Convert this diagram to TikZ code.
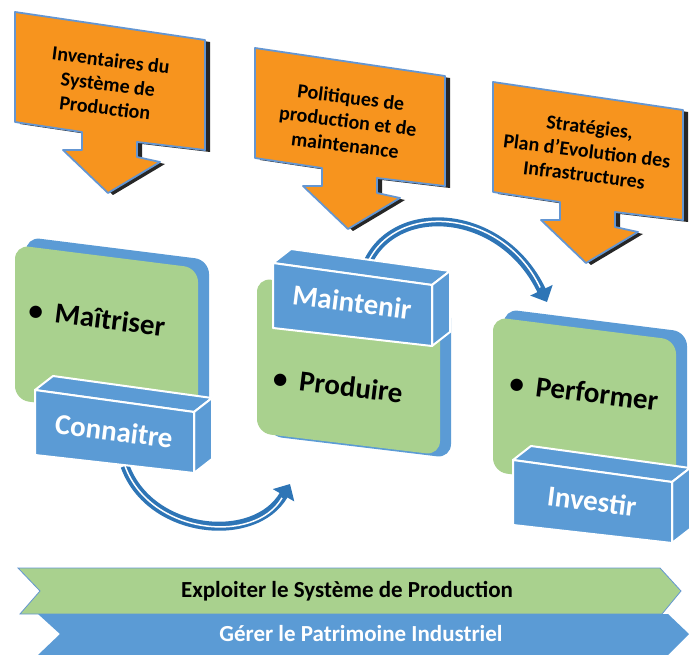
\documentclass[tikz,border=0pt]{standalone}
\usepackage{fontspec}
\setmainfont{Carlito}
\usetikzlibrary{arrows.meta}
\definecolor{calloutorange}{RGB}{247,148,30}
\definecolor{edgeblue}{RGB}{100,150,210}
\definecolor{tabblue}{RGB}{91,155,213}
\definecolor{boxgreen}{RGB}{169,209,142}
\definecolor{arrowblue}{RGB}{46,117,182}

\begin{document}
\begin{tikzpicture}[x=1pt, y=-1pt,
    callouttext/.style={align=center, font=\fontsize{20}{24}\selectfont\bfseries, rotate=-7},
    boxtext/.style={font=\fontsize{29}{33}\selectfont\bfseries, rotate=-7},
    tabtext/.style={boxtext, text=white},
    bandtext/.style={font=\fontsize{23}{27}\selectfont\bfseries},
    calloutbox/.style={fill=calloutorange, draw=edgeblue, line width=1.8pt, line join=round},
    boxface/.style={fill=boxgreen, rounded corners=14pt},
    boxback/.style={fill=tabblue, rounded corners=14pt},
    tabface/.style={fill=tabblue, draw=white, line width=2pt, line join=round},
    curvedarrow/.style={arrowblue, line width=9pt, -{Triangle[width=24pt,length=13pt]}},
    arrowstripe/.style={white, line width=1.5pt, shorten >=16pt},
    callout/.pic={
      \fill[black!85, shift={(5,2)}] (0,0) -- (190,28) -- (190,138) -- (122,130) -- (122,145)
        -- (145,150) -- (93,181) -- (48,138) -- (67,138) -- (67,120) -- (0,110) -- cycle;
      \draw[calloutbox] (0,0) -- (190,28) -- (190,138) -- (122,130) -- (122,145)
        -- (145,150) -- (93,181) -- (48,138) -- (67,138) -- (67,120) -- (0,110) -- cycle;
    },
    greenbox/.pic={
      \fill[boxback, shift={#1}] (0,0) -- (183,23) -- (183,177) -- (0,155) -- cycle;
      \fill[boxface] (0,0) -- (183,23) -- (183,177) -- (0,155) -- cycle;
    },
    tab/.pic={
      \filldraw[tabface] (0,0) -- (18,-14) -- (177,8) -- (159,22) -- cycle;
      \filldraw[tabface] (159,22) -- (177,8) -- (177,69) -- (159,83) -- cycle;
      \filldraw[tabface] (0,0) -- (159,22) -- (159,83) -- (0,65) -- cycle;
    }
]
\useasboundingbox (0,0) rectangle (689,655);
% Orange inputs
\pic (c1) at (15,12) {callout};
\pic (c2) at (255,48) {callout};
\pic (c3) at (493,82) {callout};
\node[callouttext] (in1) at (108,84) {Inventaires du\\Système de\\Production};
\node[callouttext] (in2) at (348,121) {Politiques de\\production et de\\maintenance};
\node[callouttext] (in3) at (587,151) {Stratégies,\\Plan d’Evolution des\\Infrastructures};
% Green boxes
\pic (b1) at (15,245) {greenbox={(11,-8)}};
\pic (b2) at (257,278) {greenbox={(11,3)}};
\pic (b3) at (493,317) {greenbox={(11,-8)}};
\node[boxtext] (maitriser) at (97,318) {\textbullet\hspace{12pt}Maîtriser};
\node[boxtext] (produire) at (338,385) {\textbullet\hspace{12pt}Produire};
\node[boxtext] (performer) at (584,392) {\textbullet\hspace{12pt}Performer};
% Curved arrows
\coordinate (a1start) at (125,466);
\coordinate (a1end) at (290,484);
\coordinate (a2start) at (363,276);
\coordinate (a2end) at (547,302);
\draw[curvedarrow] (a1start) .. controls (150,535) and (255,545) .. (a1end);
\draw[arrowstripe] (a1start) .. controls (150,535) and (255,545) .. (a1end);
\draw[curvedarrow] (a2start) .. controls (382,200) and (500,203) .. (a2end);
\draw[arrowstripe] (a2start) .. controls (382,200) and (500,203) .. (a2end);
% Blue tabs
\pic (t1) at (35,390) {tab};
\pic (t2) at (273,263) {tab};
\pic (t3) at (513,460) {tab};
\node[tabtext] (connaitre) at (114,431) {Connaitre};
\node[tabtext] (maintenir) at (352,302) {Maintenir};
\node[tabtext] (investir) at (592,501) {Investir};
% Bottom bands
\filldraw[fill=boxgreen, draw=edgeblue, line width=0.8pt] (18,568) -- (660,568) -- (681,591)
  -- (662,614) -- (20,614) -- (40,591) -- cycle;
\fill[tabblue] (38,614) -- (668,614) -- (689,634) -- (668,655) -- (38,655) -- (60,634) -- cycle;
\node[bandtext] (exploiter) at (347,591) {Exploiter le Système de Production};
\node[bandtext, text=white] (gerer) at (361,634) {Gérer le Patrimoine Industriel};
\end{tikzpicture}
\end{document}
